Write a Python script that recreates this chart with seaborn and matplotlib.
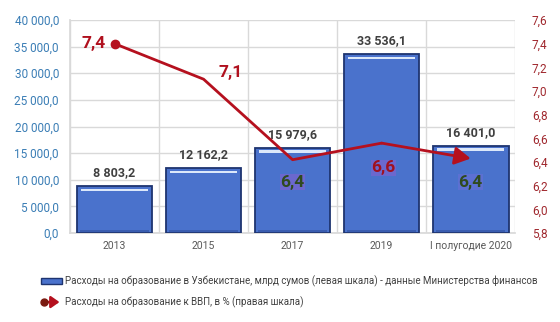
import matplotlib
matplotlib.use("Agg")
import matplotlib.pyplot as plt
import seaborn as sns
import pandas as pd
import numpy as np
from matplotlib.lines import Line2D
from matplotlib.patches import Patch, FancyArrowPatch, Rectangle
from matplotlib.legend_handler import HandlerBase

categories = ["2013", "2015", "2017", "2019", "I полугодие 2020"]
spending = [8803.2, 12162.2, 15979.6, 33536.1, 16401.0]
gdp_share = [7.4, 7.1, 6.42, 6.56, 6.43]
gdp_labels = ["7,4", "7,1", "6,4", "6,6", "6,4"]
left_ticks = [0, 5000, 10000, 15000, 20000, 25000, 30000, 35000, 40000]
right_ticks = [5.8, 6.0, 6.2, 6.4, 6.6, 6.8, 7.0, 7.2, 7.4, 7.6]
legend_labels = [
    "Расходы на образование в Узбекистане, млрд сумов (левая шкала) - данные Министерства финансов",
    "Расходы на образование к ВВП, в % (правая шкала)",
]

sns.set_theme(style="white")
plt.rcParams["font.family"] = ["Roboto", "DejaVu Sans"]

def fmt_num(v):
    return f"{v:,.1f}".replace(",", " ").replace(".", ",")

BAR = "#4A72CC"
EDGE = "#1E3470"
LINE = "#B5101E"

fig = plt.figure(figsize=(5.6, 3.22), dpi=100)
ax = fig.add_axes([0.125, 0.276, 0.795, 0.662])
df = pd.DataFrame({"cat": categories, "val": spending})
sns.barplot(data=df, x="cat", y="val", ax=ax, color=BAR, saturation=1,
            width=0.85, edgecolor=EDGE, linewidth=1.3, zorder=3)

# bevel highlight and value labels
for p, v in zip(ax.patches, spending):
    x0, w, h = p.get_x(), p.get_width(), p.get_height()
    ax.add_patch(Rectangle((x0 + w * 0.06, h - 900), w * 0.88, 450,
                           facecolor="#DCE8FA", edgecolor="none", zorder=4))
    ax.add_patch(Rectangle((x0 + w * 0.04, 250), w * 0.92, 250,
                           facecolor="#3A5DB0", edgecolor="none", zorder=4))
    ax.text(x0 + w / 2, h + 1300, fmt_num(v), ha="center", va="bottom",
            fontsize=9, fontweight="bold", color="#404040", zorder=6)

ax.set_ylim(0, 40000)
ax.set_xlim(-0.5, len(categories) - 0.5)
ax.set_yticks(left_ticks)
ax.set_yticklabels([fmt_num(t) for t in left_ticks], fontsize=8.5, color="#3A7DB5")
ax.set_xlabel("")
ax.set_ylabel("")
ax.tick_params(axis="x", labelsize=7.5, labelcolor="#595959", length=0, pad=6)
ax.tick_params(axis="y", length=0, pad=8)
ax.set_xticks(range(len(categories)))
ax.set_xticklabels(categories)
ax.set_xticks(np.arange(-0.5, len(categories), 1), minor=True)
ax.grid(axis="y", color="#D9D9D9", linewidth=1, zorder=0)
ax.grid(axis="x", which="minor", color="#D9D9D9", linewidth=1, zorder=0)
ax.grid(axis="x", which="major", visible=False)
for s in ax.spines.values():
    s.set_visible(False)
ax.spines["left"].set_visible(True)
ax.spines["left"].set_color("#D9D9D9")
ax.spines["bottom"].set_visible(True)
ax.spines["bottom"].set_color("#D9D9D9")

ax2 = ax.twinx()
xs = np.arange(len(categories))
sns.lineplot(x=xs[:-1], y=gdp_share[:-1], ax=ax2, color=LINE, linewidth=2, zorder=5)
ax2.plot(xs[0], gdp_share[0], "o", color=LINE, markersize=6, zorder=6)
ax2.annotate("", xy=(xs[-1], gdp_share[-1]), xytext=(xs[-2], gdp_share[-2]),
             arrowprops=dict(arrowstyle="-|>,head_length=0.8,head_width=0.45",
                             color=LINE, linewidth=2, shrinkA=0, shrinkB=0), zorder=6)
ax2.set_ylim(5.8, 7.6)
ax2.set_xlim(-0.5, len(categories) - 0.5)
ax2.set_yticks(right_ticks)
ax2.set_yticklabels([f"{t:.1f}".replace(".", ",") for t in right_ticks],
                    fontsize=8.5, color="#A0282E")
ax2.tick_params(axis="y", length=0, pad=12)
ax2.set_ylabel("")
ax2.grid(False)
for s in ax2.spines.values():
    s.set_visible(False)

# line value labels (offsets relative to the point)
lab_pos = [(-0.23, 0.0, "#B0101E", None),
           (0.30, 0.06, "#B0101E", None),
           (0.0, -0.19, "#2F4A1E", "#8C5FD0"),
           (0.02, -0.21, "#A0101E", "#8C5FD0"),
           (0.0, -0.20, "#2F4A1E", "#6F6FD8")]
for i, (dx, dy, c, bg) in enumerate(lab_pos):
    t = ax2.text(xs[i] + dx, gdp_share[i] + dy, gdp_labels[i],
                 ha="center", va="center", fontsize=12.5, fontweight="bold",
                 color=c, zorder=7)
    if bg:
        t.set_bbox(dict(facecolor=bg, edgecolor="none", alpha=0.5, pad=0.5))


class ArrowHandler(HandlerBase):
    def create_artists(self, legend, orig_handle, xdescent, ydescent, width,
                       height, fontsize, trans):
        y = height / 2 - ydescent
        x0, x1 = -xdescent, width - xdescent
        ln = Line2D([x0 + 2], [y], marker="o", color="#7A1A10", markersize=5,
                    linestyle="none", transform=trans)
        arr = FancyArrowPatch((x0 + 2, y), (x1, y), arrowstyle="-|>,head_length=5,head_width=3.5",
                              color=LINE, linewidth=1.8, transform=trans,
                              mutation_scale=1)
        return [arr, ln]


h_bar = Patch(facecolor=BAR, edgecolor=EDGE, linewidth=1)
h_line = object()
leg = fig.legend([h_bar, h_line], legend_labels,
                 handler_map={object: ArrowHandler()},
                 loc="upper left", bbox_to_anchor=(0.073, 0.145), frameon=False,
                 fontsize=7, labelcolor="#404040", handlelength=2.2,
                 handleheight=0.6, handletextpad=0.3, labelspacing=1.0,
                 borderaxespad=0, borderpad=0)

fig.savefig("out.png", dpi=100)
